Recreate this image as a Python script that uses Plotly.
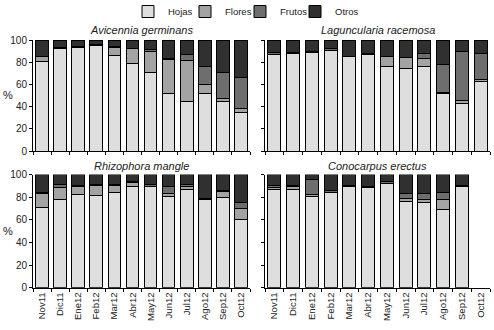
import plotly.graph_objects as go

months = ["Nov11", "Dic11", "Ene12", "Feb12", "Mar12", "Abr12", "May12",
          "Jun12", "Jul12", "Ago12", "Sep12", "Oct12"]
series_names = ["Hojas", "Flores", "Frutos", "Otros"]
colors = ["#dedede", "#a3a3a3", "#6e6e6e", "#303030"]

species = ["Avicennia germinans", "Laguncularia racemosa",
           "Rhizophora mangle", "Conocarpus erectus"]

# Avicennia germinans
avi_hojas  = [81, 92, 93, 95, 86, 79, 71, 52, 45, 51.5, 45, 35]
avi_flores = [4, 0, 0, 0, 7, 13, 19, 30.5, 36.5, 8.5, 2, 3.5]
avi_frutos = [0, 1.5, 1, 1, 1, 0.5, 1, 1, 5, 16.5, 24, 28]
avi_otros  = [15, 6.5, 6, 4, 6, 7.5, 9, 16.5, 13.5, 23.5, 29, 33.5]

# Laguncularia racemosa
lag_hojas  = [87, 88, 89, 90.5, 85, 87, 76, 74, 76, 51.5, 42.5, 63]
lag_flores = [0, 0, 0, 0, 0, 1, 9, 10, 7.5, 1, 3, 1.5]
lag_frutos = [2, 1, 1, 1.5, 0, 0, 0, 0, 4, 25, 44.5, 23.5]
lag_otros  = [11, 11, 10, 8, 15, 12, 15, 16, 12.5, 22.5, 10, 12]

# Rhizophora mangle
rhi_hojas  = [71, 78, 82, 81.5, 84, 89, 89.5, 81, 87, 78, 80, 60]
rhi_flores = [12, 10.5, 7.5, 9, 6.5, 4, 0, 2, 2, 0, 5, 10]
rhi_frutos = [1.5, 2.5, 1, 0.5, 0.5, 0.5, 1.5, 6, 2.5, 0.5, 0.5, 5]
rhi_otros  = [15.5, 9, 9.5, 9, 9, 6.5, 9, 11, 8.5, 21.5, 14.5, 25]

# Conocarpus erectus (no data for Oct12)
con_hojas  = [87, 86.5, 81, 84, 89.5, 88.5, 92, 76, 75.5, 69, 89, None]
con_flores = [1.5, 2.5, 1.5, 0, 0, 0, 0, 2.5, 2, 9, 0, None]
con_frutos = [1.5, 1, 13, 1.5, 1, 1, 2, 4.5, 5.5, 6, 1, None]
con_otros  = [10, 10, 4.5, 14.5, 9.5, 10.5, 6, 17, 17, 16, 10, None]

data = [
    [avi_hojas, avi_flores, avi_frutos, avi_otros],
    [lag_hojas, lag_flores, lag_frutos, lag_otros],
    [rhi_hojas, rhi_flores, rhi_frutos, rhi_otros],
    [con_hojas, con_flores, con_frutos, con_otros],
]

W, H = 494, 330
xdom = [[33 / W, 250 / W], [265 / W, 490 / W]]
ydom = [[(H - 151) / H, (H - 40) / H], [(H - 287.7) / H, (H - 174.5) / H]]
legend_x_px = [128, 185, 240, 295]

FONT = "Liberation Sans, Arial, sans-serif"
fig = go.Figure()

legend_ids = ["legend", "legend2", "legend3", "legend4"]

for p in range(4):
    ax = "" if p == 0 else str(p + 1)
    for s in range(4):
        fig.add_trace(go.Bar(
            x=months, y=data[p][s], name=series_names[s],
            marker=dict(color=colors[s], line=dict(color="black", width=1)),
            width=0.7, xaxis="x" + ax, yaxis="y" + ax,
            showlegend=(p == 0), legendgroup=series_names[s],
            legend=legend_ids[s],
        ))

layout = dict(
    width=W, height=H, margin=dict(l=0, r=0, t=0, b=0, autoexpand=False),
    barmode="stack", plot_bgcolor="white", paper_bgcolor="white",
    font=dict(family=FONT, size=10, color="black"),
)
for s in range(4):
    layout[legend_ids[s]] = dict(
        orientation="h", x=legend_x_px[s] / W, xanchor="left",
        y=1 + 3 / H, yanchor="top", font=dict(size=9.5, color="#222"),
        itemwidth=30, bgcolor="rgba(0,0,0,0)",
    )

for p in range(4):
    col = p % 2
    row = p // 2
    sfx = "" if p == 0 else str(p + 1)
    layout["xaxis" + sfx] = dict(
        domain=xdom[col], anchor="y" + sfx, type="category",
        categoryorder="array", categoryarray=months, range=[-0.5, 11.5],
        showline=True, linecolor="black", linewidth=1, mirror=False,
        ticks="outside", ticklen=3, tickcolor="black", tickson="boundaries",
        showticklabels=(row == 1), tickangle=-90,
        tickfont=dict(size=9.5, family=FONT, color="#222"), showgrid=False,
        zeroline=False, fixedrange=True, automargin=False,
    )
    layout["yaxis" + sfx] = dict(
        domain=ydom[row], anchor="x" + sfx, range=[0, 100],
        tickvals=[0, 20, 40, 60, 80, 100],
        showline=True, linecolor="black", linewidth=1,
        ticks="outside", ticklen=3, tickcolor="black",
        showticklabels=(col == 0), tickfont=dict(size=10, family=FONT, color="#222"),
        showgrid=False, zeroline=False, fixedrange=True, automargin=False,
    )

fig.update_layout(**layout)

title_y = [(H - 30) / H, (H - 166) / H]
for p in range(4):
    col = p % 2
    row = p // 2
    fig.add_annotation(
        text="<i>" + species[p] + "</i>", xref="paper", yref="paper",
        x=(xdom[col][0] + xdom[col][1]) / 2, y=title_y[row],
        showarrow=False, font=dict(size=11, family=FONT, color="#222"),
        xanchor="center", yanchor="middle",
    )

for row in range(2):
    fig.add_annotation(
        text="%", xref="paper", yref="paper", x=8 / W,
        y=(ydom[row][0] + ydom[row][1]) / 2, showarrow=False,
        font=dict(size=11, family=FONT, color="#222"), xanchor="center",
        yanchor="middle",
    )

fig.write_html("out.html", config={"displayModeBar": False})

# remove default page margin so the figure sits at the window's origin
with open("out.html", "r", encoding="utf-8") as f:
    html = f.read()
html = html.replace("<head>", "<head><style>html,body{margin:0;padding:0;overflow:hidden;}</style>", 1)
with open("out.html", "w", encoding="utf-8") as f:
    f.write(html)
